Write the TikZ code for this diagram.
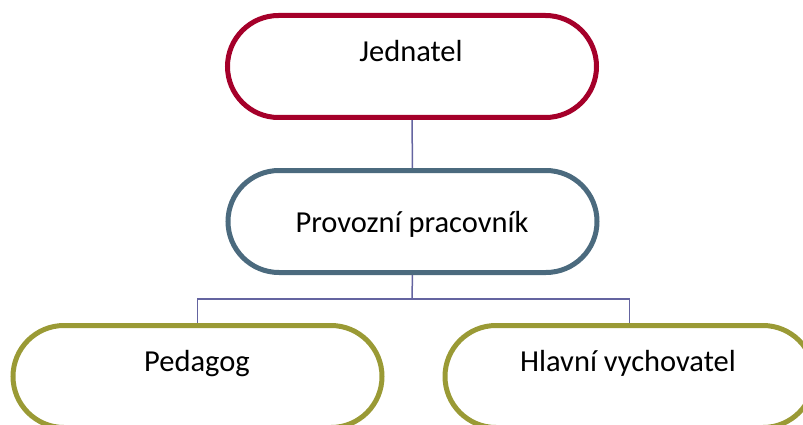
\documentclass[tikz,border=0pt]{standalone}
\usepackage{fontspec}
\setmainfont{Carlito}
\usetikzlibrary{backgrounds}
\definecolor{boxred}{HTML}{A5002A}
\definecolor{boxslate}{HTML}{4B6A7E}
\definecolor{boxolive}{HTML}{9A9A35}
\definecolor{linkviolet}{HTML}{6464A0}
\begin{document}
\begin{tikzpicture}[x=1pt,y=-1pt,
  pill/.style={draw=#1, line width=5pt, fill=white, rectangle,
    rounded corners=51pt, minimum width=369pt, minimum height=102pt,
    inner sep=0pt, outer sep=0pt},
  label text/.style={anchor=base, inner sep=0pt, font=\fontsize{30.5}{36}\selectfont},
  link/.style={draw=linkviolet, line width=1.5pt}]
  \useasboundingbox (0,0) rectangle (803,425);
  % boxes
  \node[pill=boxred]   (boss) at (412,66.5)  {};
  \node[pill=boxslate] (ops)  at (412.5,221.5) {};
  \node[pill=boxolive] (ped)  at (197.5,376.5) {};
  \node[pill=boxolive] (head) at (629.5,376.5) {};
  % labels
  \node[label text] (t1) at (411,62)  {Jednatel};
  \node[label text] (t2) at (412,232) {Provozní pracovník};
  \node[label text] (t3) at (197,371) {Pedagog};
  \node[label text] (t4) at (628,371) {Hlavní vychovatel};
  % connectors
  \begin{scope}[on background layer]
    \coordinate (split) at (412,299);
    \draw[link] (boss.south) -- (ops.north);
    \draw[link] (ops.south) -- (split);
    \draw[link] (ped.north) |- (split) -| (head.north);
  \end{scope}
\end{tikzpicture}
\end{document}
